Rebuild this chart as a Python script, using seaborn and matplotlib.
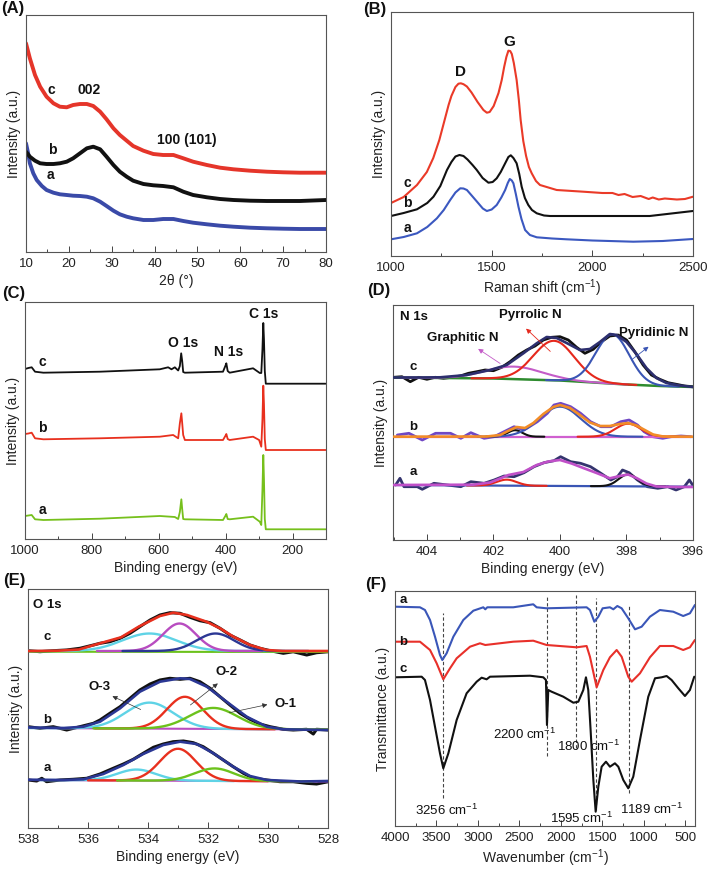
import matplotlib
matplotlib.use('Agg')
import matplotlib.pyplot as plt
from matplotlib.ticker import MultipleLocator
import seaborn as sns
import numpy as np

sns.set_theme(style="ticks")
plt.rcParams['font.family'] = ['Liberation Sans', 'DejaVu Sans']
plt.rcParams['mathtext.fontset'] = 'custom'
plt.rcParams['mathtext.rm'] = 'Liberation Sans'
plt.rcParams['mathtext.it'] = 'Liberation Sans:italic'
plt.rcParams['mathtext.bf'] = 'Liberation Sans:bold'

RED = '#e8311f'
BLUE = '#3b4fae'
BLACK = '#111111'

# ---------------- (A) XRD ----------------
XRD_X = [10, 10.9, 12.1, 13.3, 14.8, 16.4, 17.9, 19.5, 21, 22.6, 24.2, 25.7, 27.3, 28.8, 30.4, 31.9,
         33.5, 35, 37.4, 39.7, 42, 44.4, 46.7, 49, 52.2, 55.3, 58.4, 62.3, 66.2, 70, 73.9, 80]
XRD_C = [208.7, 193.7, 177, 165.3, 155.3, 148.7, 145.3, 144.7, 147, 148, 148, 146, 140.3, 132.7, 123.7, 117,
         111.3, 106, 101.3, 98, 97, 97, 93.7, 90.3, 87, 84.3, 82.7, 81.3, 80.3, 79.7, 79.3, 79.3]
XRD_B = [100.3, 95.3, 91.3, 88.7, 88, 88, 88.7, 90.3, 93.7, 98.7, 103.7, 105.3, 102.7, 95.3, 87, 80.3,
         75.3, 71.3, 68, 66.7, 66, 64.7, 60.3, 57, 54.7, 53, 52, 51.3, 51, 51, 51, 52]
XRD_XA = [10, 10.5, 10.9, 11.7, 12.5, 13.7, 14.8, 16.4, 17.9, 19.5, 21, 22.6, 24.2, 25.7, 27.3, 28.8, 30.4,
          31.9, 33.5, 35, 37.4, 39.7, 42, 44.4, 46.7, 49, 52.2, 55.3, 58.4, 62.3, 66.2, 70, 73.9, 80]
XRD_A = [108.7, 98.7, 88.7, 78.7, 72, 66, 62, 59.3, 57.7, 57, 56.3, 56, 55.3, 53.7, 50.3, 46, 41.3,
         37.7, 35.3, 33.7, 32, 32, 33, 33, 31, 29.3, 27.7, 26.3, 25.3, 24.3, 23.7, 23.3, 23, 23]

# ---------------- (B) Raman ----------------
RAM_XC = [1000, 1063, 1129, 1178, 1210, 1240, 1265, 1286, 1300, 1320, 1335, 1347, 1360, 1377, 1400, 1430,
          1459, 1476, 1490, 1510, 1534, 1550, 1562, 1573, 1583, 1592, 1600, 1610, 1624, 1635, 1644, 1657,
          1671, 1685, 1699, 1720, 1740, 1823, 1955, 2050, 2100, 2130, 2160, 2200, 2240, 2280, 2300, 2330,
          2360, 2420, 2460, 2500]
RAM_C = [53, 59, 71, 84, 98, 116, 135, 151, 160, 169, 172.3, 172.7, 171.8, 169.5, 163.5, 154, 146, 143.3, 144,
         150, 163, 176, 189, 199, 205.3, 205, 202, 193, 176, 156, 136, 115, 100, 89, 82.7, 75, 71, 66, 64.3,
         63, 63, 61, 62, 59, 60, 57, 58.5, 56.5, 57.5, 56.5, 57, 59.3]
RAM_XB = [1000, 1063, 1129, 1180, 1211, 1245, 1278, 1300, 1320, 1340, 1360, 1380, 1405, 1426, 1455, 1484,
          1505, 1525, 1545, 1567, 1583, 1595, 1608, 1624, 1637, 1649, 1665, 1682, 1700, 1724, 1760, 1790,
          2285, 2500]
RAM_B = [40, 43, 46.7, 53, 59.3, 70, 86, 94, 99.5, 101, 100, 96.5, 91, 86, 78, 73.3, 74, 77.7, 84, 92.7, 99,
         100.7, 98, 92.7, 82, 69.3, 58, 51, 46, 42.7, 40.5, 40, 40, 45]
RAM_XA = [1000, 1063, 1129, 1180, 1228, 1262, 1294, 1320, 1344, 1360, 1377, 1405, 1434, 1456, 1476, 1500,
          1525, 1548, 1567, 1580, 1590, 1600, 1608, 1620, 1633, 1648, 1666, 1690, 1724, 1800, 1872, 2000,
          2203, 2350, 2500]
RAM_A = [16.7, 19, 22.7, 29, 37.7, 46, 56, 63.5, 67.7, 67.5, 66, 59.5, 52.7, 47.5, 45, 46.5, 51, 58.5, 66,
         73, 77, 75.5, 72.7, 62, 49.3, 37, 26, 21, 18.7, 17.5, 16.7, 15.5, 14.3, 15, 17]

# ---------------- (C) XPS survey ----------------
SUR_XC = [1000, 990, 980, 970, 945, 776, 597, 572, 562, 552, 542, 537, 533, 530, 527, 522, 408, 401, 398,
          394, 388, 318, 298, 293.5, 290, 287.5, 285.5, 283, 280, 101]
SUR_C = [170, 171, 171.7, 167.3, 166.3, 167.3, 169.7, 171.7, 169.7, 171.7, 168.5, 173, 185.7, 178, 167, 166.3,
         167.3, 173, 175.7, 168, 166.3, 170.7, 166, 166, 190, 216, 200, 168, 155.3, 155.3]
SUR_XB = [1000, 990, 980, 970, 945, 776, 597, 557, 542, 537, 532.5, 530, 527, 522, 408, 401, 398, 394, 388,
          318, 300, 293.5, 290, 287.5, 285.5, 283, 280, 101]
SUR_B = [105, 105.5, 106.3, 100.7, 99.7, 100.7, 102.3, 104, 100.7, 115.7, 125.7, 116, 104, 99, 99, 103, 105,
         100, 99, 102.3, 99, 92.3, 120, 153.3, 135, 100, 89, 89]
SUR_XA = [1000, 990, 980, 970, 945, 776, 597, 552, 542, 537, 532.5, 530, 527, 522, 408, 401, 398, 394, 388,
          318, 298, 293.5, 290, 287.5, 285.5, 283, 280, 101]
SUR_A = [23, 23.5, 24, 19.7, 19, 20.3, 23, 22, 20, 27, 39.7, 30, 20, 19.7, 19, 23, 25, 20, 19.7, 22.3, 17.3,
         14, 50, 84, 60, 20, 9.7, 9.7]

# ---------------- (D) N 1s ----------------
DC_X = [405, 404.75, 404.5, 404.25, 404, 403.75, 403.5, 403.25, 403, 402.75, 402.5, 402.25, 402, 401.75,
        401.5, 401.25, 401, 400.75, 400.5, 400.25, 400, 399.75, 399.5, 399.25, 399, 398.75, 398.5, 398.25,
        398, 397.75, 397.5, 397.25, 397, 396.75, 396.5, 396.25, 396]
DC_DATA = [162.7, 163.3, 158.3, 162.7, 160.7, 162.7, 161.7, 162.7, 164, 166.7, 168.3, 170, 169.3, 172.7,
           178.3, 185, 190, 194, 200, 202.7, 203.3, 200, 192.7, 186.7, 190.7, 198.3, 204, 205, 200, 188.3,
           175, 165, 160.7, 157.3, 155.7, 154, 153.3]
DC_ENV_X = [405, 404.2, 403.6, 402.8, 402.1, 401.6, 401.1, 400.7, 400.4, 400.1, 399.8, 399.4, 399.1, 398.8,
            398.5, 398.3, 398.0, 397.7, 397.4, 397.1, 396.8, 396.4, 396]
DC_ENV = [162.5, 162.5, 162.7, 165, 170, 175, 186.7, 196.7, 203, 202, 197, 190, 191, 198, 206, 205, 198,
          186, 172, 162, 157, 154.5, 153]
DC_BG_X = [405, 402, 400, 399, 398, 397, 396]
DC_BG = [162.5, 161.5, 159.5, 157.5, 155.5, 154, 153]
DC_CENTER = [401.38, 400.18, 398.42]     # graphitic, pyrrolic, pyridinic
DC_HEIGHT = [12.5, 39.5, 49.3]
DC_WIDTH = [0.85, 0.62, 0.5]

DB_X = [404.89, 404.54, 404.14, 403.74, 403.29, 402.98, 402.68, 402.28, 401.98, 401.68, 401.38, 401.08,
        400.68, 400.38, 400.18, 399.98, 399.68, 399.38, 399.08, 398.77, 398.47, 398.17, 397.92, 397.67,
        397.47, 397.21, 396.91, 396.66, 396.36, 396.06]
DB_DATA = [105, 106.7, 100, 106.7, 106.7, 101.7, 107.3, 101.7, 103.3, 108.3, 113.3, 110, 118.3, 126.7, 135,
           136.7, 133.3, 126.7, 118.3, 113.3, 113.3, 118.3, 120, 115, 108.3, 103.3, 101.7, 103.3, 104, 103.3]
DB_ENV_X = [405, 402.2, 401.8, 401.5, 401.3, 401.05, 400.8, 400.5, 400.2, 400.0, 399.7, 399.4, 399.1, 398.8,
            398.5, 398.2, 397.95, 397.7, 397.45, 397.2, 396.9, 396]
DB_ENV = [103.3, 103.5, 105, 110, 113, 112, 117, 126, 133, 135, 132, 125, 117.5, 114, 114, 116, 117, 114.5,
          110, 105.5, 103.5, 103.3]
DB_BASE = [103.3, 103.3]
DB_CENTER = [401.35, 400.0, 397.95]
DB_HEIGHT = [6.5, 30, 13]
DB_WIDTH = [0.22, 0.62, 0.38]

DA_X = [404.94, 404.81, 404.69, 404.29, 404.14, 403.79, 403.39, 402.98, 402.68, 402.28, 401.98, 401.68,
        401.38, 401.08, 400.78, 400.48, 400.18, 399.98, 399.68, 399.38, 399.08, 398.77, 398.47, 398.27,
        398.12, 397.92, 397.67, 397.37, 397.06, 396.76, 396.51, 396.26, 396.11, 396.01]
DA_DATA = [55, 61.7, 53.3, 53.3, 50.7, 56.7, 55, 53.3, 58.3, 56.7, 60, 64, 63.3, 67.3, 73.3, 77.3, 79.3,
           83.3, 78.3, 76.7, 73.3, 66.7, 60, 63.3, 70, 67.3, 60, 53.3, 51.7, 53.3, 50, 53.3, 60, 55]
DA_ENV_X = [405, 402.6, 402.1, 401.8, 401.55, 401.1, 400.7, 400.35, 400.0, 399.65, 399.3, 398.9, 398.5,
            398.2, 397.95, 397.7, 397.4, 397.1, 396.5, 396]
DA_ENV = [55, 55.3, 57.5, 61.5, 65, 68, 75, 78.5, 80, 76.5, 72, 67, 61.7, 64, 65.5, 62, 56.5, 53.5, 53, 53]
DA_BASE = [55, 53.3]
DA_CENTER = [401.6, 397.95]
DA_HEIGHT = [6, 12]
DA_WIDTH = [0.3, 0.28]

# ---------------- (E) O 1s ----------------
EC_X = [537.99, 537.6, 537.16, 536.71, 536.27, 535.82, 535.6, 535.27, 534.93, 534.6, 534.27, 533.93, 533.6,
        533.27, 532.93, 532.6, 532.27, 531.93, 531.6, 531.27, 530.93, 530.6, 530.27, 529.93, 529.49, 529.16,
        528.71, 528.38, 527.99]
EC_DATA = [177.3, 176.3, 177.3, 178, 179.7, 183, 184.7, 186.3, 189.7, 194.7, 201.3, 208, 213, 215.3, 214.7,
           210.7, 207.3, 205.3, 199.7, 193, 188, 183, 179.7, 177.3, 174.7, 176.3, 173, 175.3, 176.3]
EC_ENV_X = [538, 537, 536.3, 535.8, 534.9, 534.3, 533.6, 533.15, 532.7, 532.05, 531.6, 531.15, 530.6, 530.05,
            529.5, 528]
EC_ENV = [177, 177.3, 178.5, 183, 190.7, 201.5, 212, 215.3, 213, 206.3, 199.7, 191.3, 183, 178, 177, 177]
EC_BASE = [177, 177]
EC_CENTER = [533.95, 532.95, 531.75]
EC_HEIGHT = [17.5, 27.5, 17.5]
EC_WIDTH = [0.9, 0.55, 0.62]

EB_X = [537.99, 537.6, 537.16, 536.71, 536.27, 535.82, 535.6, 535.27, 534.93, 534.6, 534.27, 533.93, 533.6,
        533.27, 532.93, 532.6, 532.27, 531.93, 531.6, 531.27, 530.93, 530.6, 530.27, 529.93, 529.49, 529.16,
        528.71, 528.49, 528.38, 527.99]
EB_DATA = [101.3, 99.7, 101.3, 98, 101.3, 104.7, 108, 114.7, 121.3, 129.7, 138, 144, 148, 149.7, 148.7, 149.7,
           146.3, 139.7, 131.3, 123, 114.7, 108.7, 104, 101.3, 98.7, 98, 98.7, 94, 98.7, 98]
EB_ENV_X = [538, 536.8, 536.15, 535.6, 534.93, 534.27, 533.6, 532.93, 532.6, 532.04, 531.38, 530.71, 530.04,
            529.49, 528]
EB_ENV = [100.5, 100, 101.3, 106.3, 119.7, 136.3, 146.3, 149.7, 149, 141.3, 126.3, 111.3, 101.3, 98.7, 98]
EB_BASE = [100, 98.5]
EB_CENTER = [533.95, 532.77, 531.82]
EB_HEIGHT = [26, 32, 21]
EB_WIDTH = [0.8, 0.6, 0.8]

EA_X = [537.99, 537.71, 537.54, 537.38, 536.93, 536.49, 536.04, 535.6, 535.16, 534.82, 534.49, 534.16, 533.82,
        533.49, 533.16, 532.82, 532.49, 532.16, 531.82, 531.49, 531.16, 530.82, 530.49, 530.04, 529.6, 529.16,
        528.71, 528.38, 527.99]
EA_DATA = [48, 47, 49.7, 46.3, 48, 48.7, 49.7, 54, 59.7, 64, 68.7, 74.7, 80.7, 84, 86.3, 87, 85.3, 81.3, 74.7,
           68, 61.3, 54.7, 49.7, 48, 46.3, 46.3, 44.7, 44, 46.3]
EA_ENV_X = [538, 536.8, 536.15, 535.49, 534.82, 534.16, 533.49, 532.93, 532.38, 531.82, 531.16, 530.6, 530.04,
            528.9, 528]
EA_ENV = [48.3, 48, 48.7, 54, 63, 74, 83, 86.3, 84, 74.7, 61.3, 52, 48, 46.5, 47]
EA_BASE = [48, 46.5]
EA_CENTER = [534.38, 533.0, 531.78]
EA_HEIGHT = [11, 32, 12.5]
EA_WIDTH = [0.65, 0.6, 0.65]

# ---------------- (F) FTIR ----------------
IR_XA = [4000, 3699, 3639, 3578, 3518, 3458, 3430, 3378, 3297, 3177, 3056, 2936, 2912, 2888, 2575, 2334,
         2293, 2173, 1691, 1651, 1598, 1550, 1498, 1410, 1369, 1321, 1269, 1189, 1108, 1028, 928, 808, 647,
         527, 446, 386]
IR_A = [219.3, 218.7, 216, 206, 189.3, 171, 166, 172.7, 189.3, 206, 215.3, 218.7, 216.7, 218.7, 218.7, 221.7,
        218.7, 217.7, 218.7, 216, 204.3, 209.3, 217.7, 218.7, 216.7, 220, 217.7, 207.7, 196.7, 199.3, 209.3,
        216, 214.3, 210, 212.7, 221]
IR_XB = [4000, 3699, 3578, 3498, 3418, 3337, 3257, 3096, 2976, 2912, 2575, 2334, 2173, 1811, 1691, 1651,
         1570, 1490, 1410, 1329, 1269, 1189, 1148, 1048, 928, 808, 647, 527, 446, 386]
IR_B = [184.3, 184.3, 176, 162.7, 146.7, 157.7, 167.7, 179.3, 182.7, 181, 184.3, 185.3, 181, 178.7, 180,
        169.3, 138.7, 156, 168.7, 176, 169.3, 149.3, 144.3, 152.7, 168.7, 180, 180, 176, 178.7, 186]
IR_XC = [4000, 3679, 3639, 3578, 3518, 3458, 3418, 3357, 3257, 3137, 3016, 2956, 2896, 2855, 2373, 2213,
         2181, 2169, 2153, 2113, 1972, 1851, 1791, 1731, 1699, 1671, 1643, 1610, 1582, 1550, 1510, 1458,
         1410, 1350, 1309, 1249, 1189, 1129, 1048, 948, 867, 787, 727, 667, 586, 506, 446, 394]
IR_C = [148.7, 149.3, 146, 126, 99.3, 72.7, 57.7, 72.7, 106, 132.7, 144.3, 148.3, 146.7, 149.3, 150.3, 148.7,
        146, 101, 136, 134.3, 129.3, 123.3, 124.3, 136, 148.7, 136, 96, 46, 14.3, 39.3, 59.3, 64.3, 59.3, 62.7,
        59.3, 46, 37.7, 49.3, 86, 129.3, 147.7, 148.7, 150, 146, 137.7, 130, 136, 149.3]
IR_MARK_WN = [3425, 2170, 1819, 1572, 1177]
IR_MARK_LO = [27.7, 70, 78, 16, 32.7]
IR_MARK_HI = [213, 229, 231, 227.7, 221]
IR_LABELS = ['3256 cm$^{-1}$', '2200 cm$^{-1}$', '1800 cm$^{-1}$', '1595 cm$^{-1}$', '1189 cm$^{-1}$']
IR_LABEL_X = [3377, 2434, 1671, 1751, 907]
IR_LABEL_Y = [16, 92, 80, 8, 17]

W, H = 709, 869
fig = plt.figure(figsize=(W / 100, H / 100), dpi=100)


def make_axes(l, t, r, b):
    return fig.add_axes([l / W, 1 - b / H, (r - l) / W, (b - t) / H])


def style(ax, xlim, ylim, major, minor, xlabel, ylabel):
    ax.set_xlim(xlim)
    ax.set_ylim(ylim)
    ax.xaxis.set_major_locator(MultipleLocator(major))
    ax.xaxis.set_minor_locator(MultipleLocator(minor))
    ax.set_yticks([])
    ax.tick_params(axis='x', which='both', direction='in', color='#444444', labelcolor='#222222',
                   labelsize=9.5, pad=4.5, width=0.7)
    ax.tick_params(axis='x', which='major', length=4)
    ax.tick_params(axis='x', which='minor', length=2.5)
    ax.set_xlabel(xlabel, fontsize=10, labelpad=2.5, color='#222222')
    ax.set_ylabel(ylabel, fontsize=10, labelpad=3.5, color='#222222')
    for s in ax.spines.values():
        s.set_color('#555555')
        s.set_linewidth(0.8)


def trace(ax, x, y, color, lw, z=2):
    sns.lineplot(x=np.asarray(x, float), y=np.asarray(y, float), ax=ax, color=color, linewidth=lw,
                 estimator=None, sort=False, zorder=z)


def peaks(ax, base_x, base_y, centers, heights, widths, colors, lw=1.5, z=3, span=4.0):
    bx = np.asarray(base_x, float)
    by = np.asarray(base_y, float)
    order = np.argsort(bx)
    for c, a, s, col in zip(centers, heights, widths, colors):
        grid = np.linspace(c - span * s, c + span * s, 200)
        base = np.interp(grid, bx[order], by[order])
        trace(ax, grid, base + a * np.exp(-(grid - c) ** 2 / (2 * s * s)), col, lw, z)


def label(ax, x, y, s, size=9.5, bold=True, ha='center', color='#111111'):
    ax.text(x, y, s, fontsize=size, fontweight='bold' if bold else 'normal', ha=ha, va='center', color=color)


# (A)
axA = make_axes(26, 15, 326, 252)
trace(axA, XRD_XA, XRD_A, '#3a4aa8', 2.8)
trace(axA, XRD_X, XRD_B, BLACK, 2.8)
trace(axA, XRD_X, XRD_C, '#e5352a', 2.8)
style(axA, (10, 80), (0, 237), 10, 5, '2θ (°)', 'Intensity (a.u.)')
for x, y, s in [(15.8, 162, 'c'), (24.7, 162, '002'), (16.1, 102, 'b'), (15.8, 77, 'a'), (47.6, 112, '100 (101)')]:
    label(axA, x, y, s, size=10)

# (B)
axB = make_axes(391, 12, 693, 256)
trace(axB, RAM_XA, RAM_A, '#3b58c0', 1.5)
trace(axB, RAM_XB, RAM_B, BLACK, 1.5)
trace(axB, RAM_XC, RAM_C, '#ea3a28', 1.5)
style(axB, (1000, 2500), (0, 244), 500, 250, 'Raman shift (cm$^{-1}$)', 'Intensity (a.u.)')
for x, y, s in [(1343, 184, 'D'), (1586, 214, 'G')]:
    label(axB, x, y, s, size=11)
for x, y, s in [(1080, 73, 'c'), (1080, 53, 'b'), (1080, 28, 'a')]:
    label(axB, x, y, s, size=10)

# (C)
axC = make_axes(25, 302, 326, 539)
trace(axC, SUR_XA, SUR_A, '#76c01c', 1.3)
trace(axC, SUR_XB, SUR_B, '#e8301e', 1.3)
trace(axC, SUR_XC, SUR_C, BLACK, 1.3)
style(axC, (1000, 100), (0, 237), 200, 100, 'Binding energy (eV)', 'Intensity (a.u.)')
for x, y, s in [(528, 196, 'O 1s'), (391, 187, 'N 1s'), (287, 225, 'C 1s')]:
    label(axC, x, y, s, size=10)
for x, y, s in [(949, 177, 'c'), (949, 111, 'b'), (949, 29, 'a')]:
    label(axC, x, y, s, size=10)

# (D)
axD = make_axes(393, 305, 693, 540)
trace(axD, DC_X, DC_DATA, BLACK, 2.0)
trace(axD, DC_BG_X, DC_BG, '#2e8b2e', 1.8)
peaks(axD, DC_BG_X, DC_BG, DC_CENTER, DC_HEIGHT, DC_WIDTH, ['#c45cc8', '#e5281c', '#3a55b4'])
trace(axD, DC_ENV_X, DC_ENV, '#2d2f6e', 1.9, 4)
trace(axD, DB_X, DB_DATA, '#7048c4', 2.0)
trace(axD, [405, 396], DB_BASE, '#d060d0', 1.6)
peaks(axD, [405, 396], DB_BASE, DB_CENTER, DB_HEIGHT, DB_WIDTH, [BLACK, '#3a55b4', '#e5281c'])
trace(axD, DB_ENV_X, DB_ENV, '#f28c28', 1.9, 4)
trace(axD, DA_X, DA_DATA, '#34346e', 2.0)
trace(axD, [405, 396], DA_BASE, '#3a55b4', 1.6)
peaks(axD, [405, 396], DA_BASE, DA_CENTER, DA_HEIGHT, DA_WIDTH, ['#e5281c', BLACK])
trace(axD, DA_ENV_X, DA_ENV, '#c050c8', 1.9, 4)
style(axD, (405.02, 396), (0, 235), 2, 1, 'Binding energy (eV)', 'Intensity (a.u.)')
label(axD, 404.8, 223, 'N 1s', ha='left')
for x, y, s in [(400.88, 225, 'Pyrrolic N'), (402.92, 202, 'Graphitic N'), (397.18, 207, 'Pyridinic N')]:
    label(axD, x, y, s)
for x, y, s in [(404.4, 173, 'c'), (404.4, 113, 'b'), (404.4, 68, 'a')]:
    label(axD, x, y, s)
for tail, head, col in [((401.73, 175), (402.53, 192.7), '#c45cc8'),
                        ((400.23, 186.7), (401.08, 213.3), '#e5281c'),
                        ((397.92, 178.3), (397.27, 195), '#3a55b4')]:
    axD.annotate('', xy=head, xytext=tail,
                 arrowprops=dict(arrowstyle='-|>', color=col, lw=0.6, mutation_scale=7), zorder=5)

# (E)
axE = make_axes(28, 589, 328, 828)
CYAN, MAG, NAVY, GRN, ERED = '#5fd3e6', '#b84cc0', '#2b3794', '#6cc21c', '#e8301e'
trace(axE, EC_X, EC_DATA, BLACK, 2.2)
trace(axE, [538, 528], [176.3, 176], GRN, 1.5)
peaks(axE, [538, 528], EC_BASE, EC_CENTER, EC_HEIGHT, EC_WIDTH, [CYAN, MAG, NAVY], lw=1.7, span=5)
trace(axE, EC_ENV_X, EC_ENV, ERED, 1.9, 4)
trace(axE, EB_X, EB_DATA, BLACK, 2.2)
trace(axE, [538, 528], EB_BASE, MAG, 1.5)
peaks(axE, [538, 528], EB_BASE, EB_CENTER, EB_HEIGHT, EB_WIDTH, [CYAN, ERED, GRN], lw=1.7, span=5)
trace(axE, EB_ENV_X, EB_ENV, NAVY, 1.9, 4)
trace(axE, EA_X, EA_DATA, BLACK, 2.2)
trace(axE, [538, 528], EA_BASE, MAG, 1.5)
peaks(axE, [538, 528], EA_BASE, EA_CENTER, EA_HEIGHT, EA_WIDTH, [CYAN, ERED, GRN], lw=1.7, span=5)
trace(axE, EA_ENV_X, EA_ENV, NAVY, 1.9, 4)
style(axE, (538, 528), (0, 239), 2, 1, 'Binding energy (eV)', 'Intensity (a.u.)')
label(axE, 537.83, 223, 'O 1s', ha='left')
for x, y, s in [(537.37, 190.7, 'c'), (537.37, 108, 'b'), (537.37, 59.7, 'a'),
                (535.6, 141.3, 'O-3'), (531.38, 156.3, 'O-2'), (529.43, 124, 'O-1')]:
    label(axE, x, y, s)
for tail, head in [((534.16, 117.3), (535.27, 133)), ((532.66, 121.3), (531.6, 146.3)),
                   ((531.38, 114.7), (529.93, 124))]:
    axE.annotate('', xy=head, xytext=tail,
                 arrowprops=dict(arrowstyle='-|>', color='#333333', lw=0.5, mutation_scale=7), zorder=5)

# (F)
axF = make_axes(395, 591, 695, 826)
axF.vlines(IR_MARK_WN, IR_MARK_LO, IR_MARK_HI, colors='#444444', linestyles=(0, (3, 2)), lw=0.8, zorder=1)
trace(axF, IR_XA, IR_A, '#3a56b8', 1.5)
trace(axF, IR_XB, IR_B, '#e8302a', 1.5)
trace(axF, IR_XC, IR_C, BLACK, 1.5)
style(axF, (4000, 385), (0, 235), 500, 250, 'Wavenumber (cm$^{-1}$)', 'Transmittance (a.u.)')
for x, y, s in [(3904, 226, 'a'), (3904, 184.3, 'b'), (3904, 156.7, 'c')]:
    label(axF, x, y, s)
for x, y, s in zip(IR_LABEL_X, IR_LABEL_Y, IR_LABELS):
    label(axF, x, y, s, size=9.5, bold=False)

# panel letters
for px, py, s in [(1, 1, '(A)'), (363, 2, '(B)'), (2, 286, '(C)'), (367, 283, '(D)'),
                  (3, 573, '(E)'), (365, 577, '(F)')]:
    fig.text(px / W, 1 - py / H, s, fontsize=12, fontweight='bold', ha='left', va='top', color='#111111')

fig.savefig('out.png', dpi=100)
